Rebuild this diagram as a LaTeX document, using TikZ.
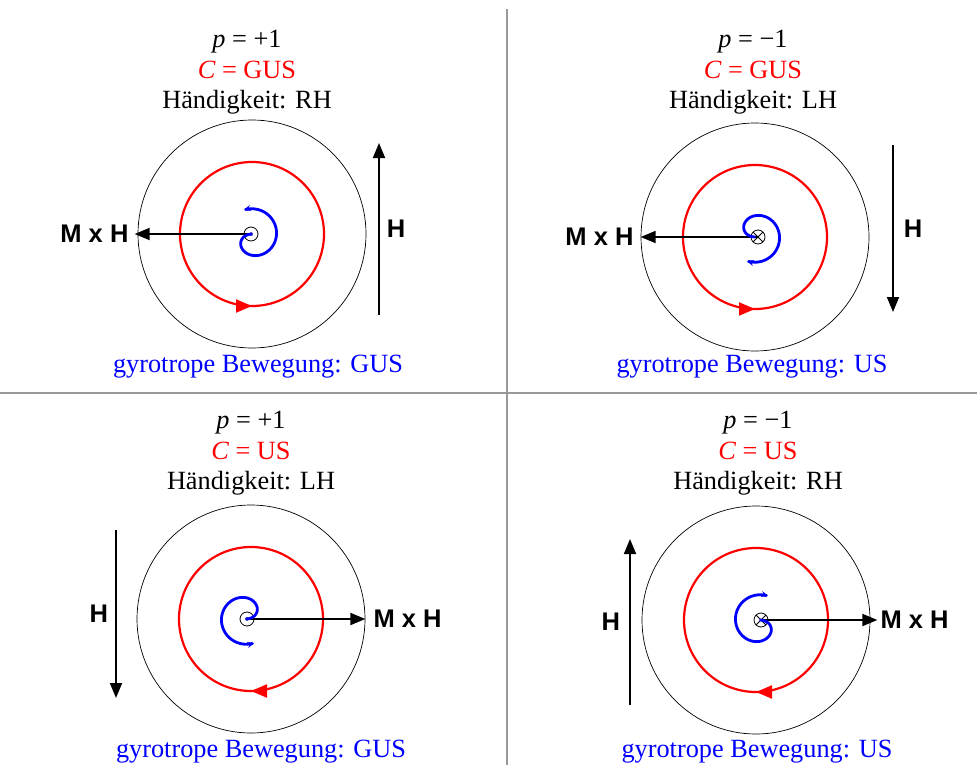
\documentclass[tikz,border=0pt]{standalone}
\usepackage{fontspec}
\setmainfont{Liberation Serif}
\setsansfont{Liberation Sans}
\usetikzlibrary{arrows.meta, positioning, decorations.markings}
\definecolor{divgray}{gray}{0.6}
\tikzstyle{divider}=[draw=divgray, line width=1.8pt]
\tikzstyle{head}=[align=center, anchor=north, inner sep=0pt, font=\fontsize{26.3}{30.5}\selectfont]
\tikzstyle{foot}=[anchor=base, inner sep=0pt, text=blue, font=\fontsize{26.3}{30.5}\selectfont]
\tikzstyle{mxh}=[inner sep=2pt, font=\sffamily\bfseries\fontsize{25.5}{30}\selectfont]
\tikzstyle{hlab}=[inner sep=2pt, font=\sffamily\bfseries\fontsize{25.5}{30}\selectfont]
\tikzstyle{ring}=[draw, circle, minimum size=228pt, inner sep=0pt, line width=0.7pt]
\tikzstyle{vortout}=[draw, circle, minimum size=14pt, inner sep=0pt, line width=0.8pt,
  path picture={\fill (path picture bounding box.center) circle (1.8pt);}]
\tikzstyle{vortin}=[draw, circle, minimum size=14pt, inner sep=0pt, line width=0.8pt,
  path picture={\draw[line width=0.8pt] (path picture bounding box.north west) -- (path picture bounding box.south east)
    (path picture bounding box.north east) -- (path picture bounding box.south west);}]
\tikzstyle{bigarrow}=[line width=1.8pt, -{Triangle[length=15pt,width=12pt]}]
\tikzstyle{spiral}=[draw=blue, line width=2.8pt, -{Stealth[length=7pt,width=6pt]}]
\tikzstyle{ccw}=[color=red, line width=2.2pt, postaction={decorate},
  decoration={markings, mark=at position 0.75 with {\arrow{Triangle[length=16pt,width=13pt]}}}]
\tikzstyle{cw}=[color=red, line width=2.2pt, postaction={decorate},
  decoration={markings, mark=at position 0.75 with {\arrowreversed{Triangle[length=16pt,width=13pt]}}}]
\newcommand{\gyro}[2]{\begin{scope}[shift={(#1)}, #2]
  \draw[spiral] plot[domain=0:290, samples=60, smooth, variable=\s]
    ({1.5+(22*(1-exp(-\s/35))+0.012*\s)*cos(180-\s)}, {(22*(1-exp(-\s/35))+0.012*\s)*sin(180-\s)});
\end{scope}}

\begin{document}
\begin{tikzpicture}[x=1pt, y=-1pt]
    \useasboundingbox (0,0) rectangle (977,765);
    % Trennlinien
    \draw[divider] (507,9) -- (507,765);
    \draw[divider] (0,393) -- (977,393);

    % oben links
    \node[head] (top1) at (247,30) {{\itshape p} = +1\\\textcolor{red}{{\itshape C} = GUS}\\Händigkeit: RH};
    \node[ring] (o1) at (252,234) {};
    \draw[ccw] (o1.center) circle[radius=72pt];
    \draw[bigarrow, shorten >=-3pt] (251,234) coordinate (c1) -- (o1.west);
    \node[vortout] (v1) at (c1) {};
    \gyro{v1.center}{}
    \node[mxh, left=7pt of o1.west] (mh1) {M x H};
    \coordinate (h1a) at (379,315);
    \coordinate (h1b) at (379,143);
    \draw[bigarrow] (h1a) -- node[hlab, right=5pt] (hl1) {H} (h1b);
    \node[foot] (bot1) at (258,372) {gyrotrope Bewegung: GUS};

    % oben rechts
    \node[head] (top2) at (753,30) {{\itshape p} = −1\\\textcolor{red}{{\itshape C} = GUS}\\Händigkeit: LH};
    \node[ring] (o2) at (755,237) {};
    \draw[ccw] (o2.center) circle[radius=72pt];
    \draw[bigarrow] (758,237) coordinate (c2) -- (o2.west);
    \node[vortin] (v2) at (c2) {};
    \gyro{v2.center}{yscale=-1, xshift=-4pt}
    \node[mxh, left=5pt of o2.west] (mh2) {M x H};
    \coordinate (h2a) at (893,145);
    \coordinate (h2b) at (893,312);
    \draw[bigarrow] (h2a) -- node[hlab, right=8pt] (hl2) {H} (h2b);
    \node[foot] (bot2) at (752,372) {gyrotrope Bewegung: US};

    % unten links
    \node[head] (top3) at (251,411) {{\itshape p} = +1\\\textcolor{red}{{\itshape C} = US}\\Händigkeit: LH};
    \node[ring] (o3) at (251,619) {};
    \draw[cw] (o3.center) circle[radius=72pt];
    \draw[bigarrow] (247,619) coordinate (c3) -- (o3.east);
    \node[vortout] (v3) at (c3) {};
    \gyro{v3.center}{scale=-1}
    \node[mxh, right=6pt of o3.east] (mh3) {M x H};
    \coordinate (h3a) at (116,530);
    \coordinate (h3b) at (116,698);
    \draw[bigarrow] (h3a) -- node[hlab, left=5pt] (hl3) {H} (h3b);
    \node[foot] (bot3) at (261,757) {gyrotrope Bewegung: GUS};

    % unten rechts
    \node[head] (top4) at (758,411) {{\itshape p} = −1\\\textcolor{red}{{\itshape C} = US}\\Händigkeit: RH};
    \node[ring] (o4) at (756,620) {};
    \draw[cw] (o4.center) circle[radius=72pt];
    \draw[bigarrow, shorten >=-7pt] (761,620) coordinate (c4) -- (o4.east);
    \node[vortin] (v4) at (c4) {};
    \gyro{v4.center}{xscale=-1}
    \node[mxh, right=8pt of o4.east] (mh4) {M x H};
    \coordinate (h4a) at (630,705);
    \coordinate (h4b) at (630,539);
    \draw[bigarrow] (h4a) -- node[hlab, left=7pt] (hl4) {H} (h4b);
    \node[foot] (bot4) at (757,757) {gyrotrope Bewegung: US};
\end{tikzpicture}
\end{document}
